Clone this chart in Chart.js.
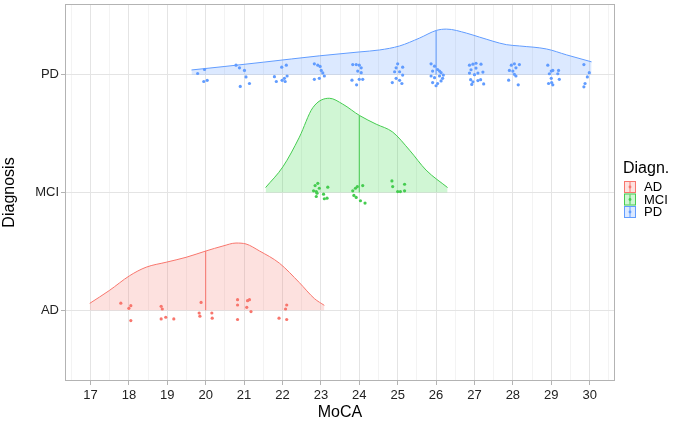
<!DOCTYPE html>
<html>
<head>
<meta charset="utf-8">
<script src="https://cdn.jsdelivr.net/npm/chart.js@4.4.1/dist/chart.umd.min.js"></script>
<style>
html, body { margin: 0; padding: 0; background: #fff; }
</style>
</head>
<body>
<canvas id="grafica" width="675" height="431"></canvas>
<script>
// categorías y ejes
const groups = ['AD', 'MCI', 'PD'];
const xTicks = [17, 18, 19, 20, 21, 22, 23, 24, 25, 26, 27, 28, 29, 30];

// curvas de densidad: valor MoCA y altura de la cresta (en unidades de fila)
const adDensX = [16.98, 17.49, 18.02, 18.45, 18.97, 19.49, 20.01, 20.45, 20.79, 21.05, 21.40, 21.92, 22.44, 22.83, 23.09];
const adDensY = [0.059, 0.168, 0.294, 0.366, 0.408, 0.450, 0.504, 0.546, 0.571, 0.563, 0.504, 0.400, 0.235, 0.100, 0.042];
const mciDensX = [21.56, 22.01, 22.44, 22.79, 23.22, 23.57, 24.01, 24.44, 24.87, 25.31, 25.74, 26.30];
const mciDensY = [0.042, 0.218, 0.470, 0.720, 0.800, 0.750, 0.653, 0.580, 0.513, 0.359, 0.190, 0.042];
const pdDensX = [19.63, 20.5, 21.5, 22.96, 24.0, 24.53, 25.05, 25.57, 26.01, 26.27, 26.79, 27.13, 27.83, 28.17, 28.88, 29.4, 30.05];
const pdDensY = [0.040, 0.070, 0.106, 0.160, 0.193, 0.210, 0.244, 0.311, 0.376, 0.387, 0.353, 0.319, 0.255, 0.244, 0.218, 0.168, 0.109];

// medianas y altura de la línea de cuantil
const medians = [20, 24, 26];
const medianTops = [0.504, 0.653, 0.376];

// puntos con jitter: valor MoCA y desplazamiento vertical
const adPtsX = [17.79, 18.00, 18.05, 18.05, 18.84, 18.87, 18.84, 18.96, 19.17, 19.88, 19.83, 19.85, 20.16, 20.17, 20.83, 20.83, 21.09, 21.14, 21.07, 21.18, 20.83, 22.11, 22.08, 21.91, 22.11];
const adPtsY = [0.061, 0.017, 0.039, -0.087, 0.034, 0.011, -0.073, -0.059, -0.073, 0.067, -0.023, -0.050, -0.023, -0.067, 0.090, 0.045, 0.082, 0.090, 0.025, -0.011, -0.078, 0.045, 0.011, -0.067, -0.078];
const mciPtsX = [22.92, 22.85, 22.96, 22.81, 22.88, 22.90, 23.18, 23.07, 22.88, 23.09, 23.16, 24.09, 23.95, 23.90, 23.83, 23.86, 23.92, 24.03, 24.15, 24.85, 24.87, 25.18, 25.00, 25.07, 25.18];
const mciPtsY = [0.078, 0.059, 0.036, 0.014, 0.008, -0.006, 0.045, -0.014, -0.034, -0.053, -0.048, 0.059, 0.050, 0.036, 0.014, -0.025, -0.042, -0.070, -0.090, 0.098, 0.050, 0.070, 0.008, 0.008, 0.014];
const pdPtsX = [19.79, 19.97, 19.95, 20.04,
    20.79, 20.88, 21.01, 21.05, 21.14, 20.90,
    21.79, 21.84, 21.98, 22.10, 22.12, 22.05, 21.99, 22.07,
    22.83, 22.92, 23.01, 22.83, 22.96, 23.05, 23.09, 22.98,
    23.83, 23.92, 24.00, 24.05, 23.96, 24.05, 23.81, 24.00, 24.09, 23.93,
    25.00, 24.96, 25.13, 24.92, 25.05, 25.13, 24.96, 25.05, 24.86, 25.11,
    25.87, 25.96, 25.91, 26.04, 26.13, 25.87, 25.96, 26.09, 26.17, 25.91, 26.04, 26.13, 26.00, 26.19, 26.09,
    26.87, 26.96, 27.04, 27.17, 26.91, 27.04, 26.87, 27.09, 27.22, 27.00, 26.90, 26.96, 27.09, 27.16, 26.93, 27.24,
    27.91, 27.96, 28.04, 28.17, 28.00, 28.04, 28.08, 27.89, 28.14, 28.08,
    28.91, 29.00, 29.04, 28.95, 29.17, 29.19, 29.00, 29.21, 28.93, 29.01, 29.04,
    29.85, 29.99, 29.94, 29.88, 29.85];
const pdPtsY = [0.010, 0.044, -0.058, -0.048,
    0.081, 0.058, 0.036, -0.019, -0.075, -0.100,
    -0.017, -0.058, 0.064, 0.081, -0.011, -0.031, -0.048, -0.058,
    0.092, 0.081, 0.036, -0.039, -0.031, 0.015, -0.011, 0.070,
    0.086, 0.086, 0.081, 0.058, 0.031, 0.017, -0.047, -0.039, -0.039, -0.086,
    0.092, 0.058, 0.064, 0.025, 0.025, -0.003, -0.031, -0.048, -0.067, -0.075,
    0.092, 0.072, 0.031, 0.044, 0.017, -0.011, -0.025, -0.011, -0.031, -0.067, -0.075, -0.053, -0.094, -0.003, 0.031,
    0.081, 0.089, 0.097, 0.089, 0.042, 0.056, 0.014, 0.014, 0.022, 0.000, -0.042, -0.061, -0.050, -0.042, -0.083, -0.078,
    0.036, 0.081, 0.092, 0.086, 0.031, 0.003, -0.011, -0.047, -0.086, 0.058,
    0.081, 0.031, 0.036, 0.008, 0.008, 0.036, -0.031, -0.039, -0.075, -0.067, -0.086,
    0.086, 0.017, -0.019, -0.075, -0.103];

const lineColors = ['#F8766D', '#45CC50', '#619CFF'];
const fillColors = ['rgba(248,118,109,0.22)', 'rgba(40,215,60,0.22)', 'rgba(97,156,255,0.22)'];

const densX = [adDensX, mciDensX, pdDensX];
const densY = [adDensY, mciDensY, pdDensY];
const ptsX = [adPtsX, mciPtsX, pdPtsX];
const ptsY = [adPtsY, mciPtsY, pdPtsY];

const datasets = [];
groups.forEach(function (g, k) {
    const base = k + 1;
    datasets.push({
        type: 'line',
        label: g,
        data: densX[k].map((x, i) => ({ x: x, y: base + densY[k][i] })),
        borderColor: lineColors[k],
        backgroundColor: fillColors[k],
        borderWidth: 1,
        fill: { value: base },
        pointRadius: 0,
        cubicInterpolationMode: 'monotone',
        order: 3
    });
    datasets.push({
        type: 'line',
        label: g + ' mediana',
        data: [{ x: medians[k], y: base }, { x: medians[k], y: base + medianTops[k] }],
        borderColor: lineColors[k],
        borderWidth: 1,
        fill: false,
        pointRadius: 0,
        order: 2
    });
    datasets.push({
        type: 'scatter',
        label: g + ' puntos',
        data: ptsX[k].map((x, i) => ({ x: x, y: base + ptsY[k][i] })),
        backgroundColor: lineColors[k],
        borderWidth: 0,
        pointRadius: 1.6,
        order: 1
    });
});

// borde del panel y leyenda al estilo ggplot
const panelPlugin = {
    id: 'panel',
    afterDraw(chart) {
        const ctx = chart.ctx;
        const a = chart.chartArea;
        ctx.save();
        ctx.strokeStyle = '#B3B3B3';
        ctx.lineWidth = 1;
        ctx.strokeRect(a.left + 0.5, a.top + 0.5, a.right - a.left - 1, a.bottom - a.top - 1);

        ctx.fillStyle = '#000';
        ctx.font = '16px "Liberation Sans", Arial, sans-serif';
        ctx.textBaseline = 'middle';
        ctx.textAlign = 'left';
        ctx.fillText('Diagn.', 623, 169);
        const kx = 624, ky = 181, ks = 12;
        groups.forEach(function (g, k) {
            const y = ky + k * (ks + 0.5);
            ctx.fillStyle = '#fff';
            ctx.fillRect(kx, y, ks, ks);
            ctx.fillStyle = fillColors[k];
            ctx.fillRect(kx, y, ks, ks);
            ctx.strokeStyle = lineColors[k];
            ctx.lineWidth = 1;
            ctx.strokeRect(kx + 0.5, y + 0.5, ks - 1, ks - 1);
            ctx.beginPath();
            ctx.moveTo(kx + ks / 2, y + 1);
            ctx.lineTo(kx + ks / 2, y + ks - 1);
            ctx.stroke();
            ctx.fillStyle = lineColors[k];
            ctx.beginPath();
            ctx.arc(kx + ks / 2, y + ks / 2, 1.4, 0, Math.PI * 2);
            ctx.fill();
            ctx.fillStyle = '#000';
            ctx.font = '13px "Liberation Sans", Arial, sans-serif';
            ctx.fillText(g, kx + ks + 8, y + ks / 2 + 0.5);
        });
        ctx.restore();
    }
};

Chart.defaults.font.family = '"Liberation Sans", Arial, sans-serif';

new Chart(document.getElementById('grafica'), {
    type: 'scatter',
    data: { datasets: datasets },
    options: {
        responsive: false,
        animation: false,
        devicePixelRatio: 1,
        layout: { padding: { left: 0, right: 60, top: -2, bottom: 0 } },
        plugins: {
            legend: { display: false },
            tooltip: { enabled: false }
        },
        scales: {
            x: {
                type: 'linear',
                min: 16.336,
                max: 30.66,
                afterBuildTicks: function (scale) {
                    const t = [];
                    xTicks.forEach(function (v) { t.push({ value: v - 0.5 }); t.push({ value: v }); });
                    t.push({ value: xTicks[xTicks.length - 1] + 0.5 });
                    scale.ticks = t;
                },
                afterFit: function (scale) {
                    scale.height = 50;
                    scale.paddingLeft = 0;
                    scale.paddingRight = 0;
                },
                ticks: {
                    autoSkip: false,
                    maxRotation: 0,
                    padding: 3,
                    color: '#222',
                    font: { size: 13 },
                    callback: (v) => Number.isInteger(v) ? String(v) : ''
                },
                grid: {
                    color: (c) => Number.isInteger(c.tick.value) ? '#E4E4E4' : '#F3F3F3',
                    lineWidth: 1,
                    tickLength: 4,
                    tickColor: (c) => Number.isInteger(c.tick.value) ? '#B3B3B3' : 'rgba(0,0,0,0)'
                },
                border: { display: false },
                title: {
                    display: true,
                    text: 'MoCA',
                    color: '#000',
                    font: { size: 16 },
                    padding: { top: 0, bottom: 9 }
                }
            },
            y: {
                type: 'linear',
                min: 0.4,
                max: 3.6,
                afterBuildTicks: function (scale) {
                    scale.ticks = groups.map((g, i) => ({ value: i + 1 }));
                },
                afterFit: function (scale) {
                    scale.width = 65;
                    scale.paddingTop = 0;
                    scale.paddingBottom = 0;
                },
                ticks: {
                    padding: 2,
                    color: '#222',
                    font: { size: 13 },
                    callback: (v) => groups[v - 1] || ''
                },
                grid: {
                    color: '#E4E4E4',
                    lineWidth: 1,
                    tickLength: 4,
                    tickColor: '#B3B3B3'
                },
                border: { display: false },
                title: {
                    display: true,
                    text: 'Diagnosis',
                    color: '#000',
                    font: { size: 16 },
                    padding: { top: 0, bottom: 0 }
                }
            }
        }
    },
    plugins: [panelPlugin]
});
</script>
</body>
</html>
